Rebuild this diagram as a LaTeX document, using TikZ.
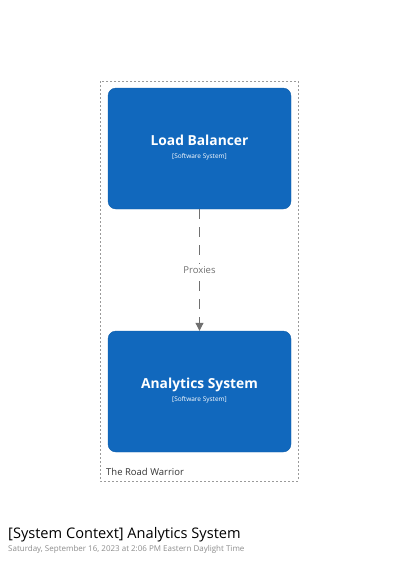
\documentclass[tikz,border=0pt]{standalone}
\usepackage{fontspec}
\setmainfont{Open Sans}
\usetikzlibrary{arrows.meta}
\definecolor{boxblue}{HTML}{1168BD}
\definecolor{relgray}{HTML}{707070}
\definecolor{bndgray}{HTML}{9A9A9A}
\newcommand{\sysbody}[1]{\raisebox{2.5pt}{\begin{tabular}{@{}c@{}}{\fontsize{13.8}{16}\selectfont\bfseries #1}\\[0.5pt]{\fontsize{6.5}{8}\selectfont [Software System]}\end{tabular}}}
\tikzset{
  sysbox/.style={fill=boxblue, draw=boxblue!90!black, line width=0.4pt, rounded corners=8pt,
    minimum width=183pt, minimum height=121pt, inner sep=0pt, text=white},
  rel/.style={draw=relgray, line width=1pt, dash pattern=on 10pt off 8pt,
    -{Triangle[length=8pt,width=8pt]}},
  rellabel/.style={text=relgray, font=\fontsize{9.5}{11}\selectfont, fill=white, inner sep=2pt},
  boundary/.style={draw=bndgray, line width=0.7pt, dash pattern=on 2pt off 2pt},
}
\begin{document}
\begin{tikzpicture}[x=1pt,y=-1pt]
\useasboundingbox (0,0) rectangle (400,563);
\draw[boundary] (100,81) rectangle (298,481);
\node[anchor=west, font=\fontsize{9.5}{11}\selectfont, text=black!80, inner sep=0pt] (bname) at (106,472) {The Road Warrior};
\node[sysbox] (lb) at (199.5,148.5) {\sysbody{Load Balancer}};
\node[sysbox] (as) at (199.5,391.5) {\sysbody{Analytics System}};
\draw[rel] (lb.south) -- (as.north) node[midway, rellabel] (proxies) {Proxies};
\node[anchor=west, inner sep=0pt, font=\fontsize{14.6}{18}\selectfont, text=black] (title) at (8,535) {[System Context] Analytics System};
\node[anchor=west, inner sep=0pt, font=\fontsize{8}{10}\selectfont, text=black!45] (subtitle) at (8,549) {Saturday, September 16, 2023 at 2:06 PM Eastern Daylight Time};
\end{tikzpicture}
\end{document}
